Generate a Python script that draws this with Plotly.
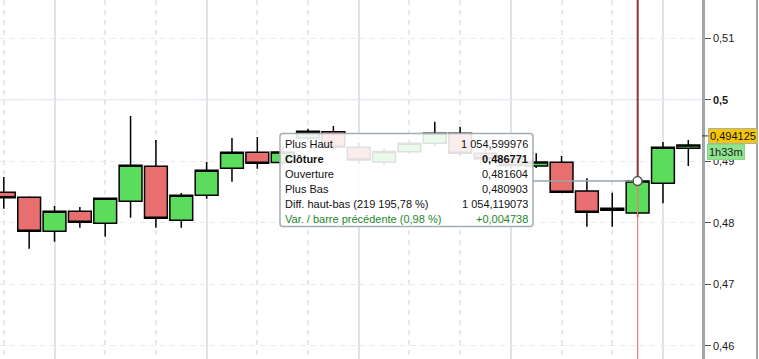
import plotly.graph_objects as go

# ---------------- data ----------------
bars = list(range(28))
opens = [0.48495, 0.48414, 0.47861, 0.48186, 0.47991, 0.48349, 0.48918, 0.48040,
         0.48446, 0.48885, 0.49146, 0.48980, 0.49380, 0.49481, 0.49227, 0.48988,
         0.49156, 0.49292, 0.49455, 0.49130, 0.49040, 0.48923, 0.48983, 0.48516,
         0.48235, 0.481604, 0.48642, 0.49211]
highs = [0.48744, 0.48430, 0.48272, 0.48256, 0.48398, 0.49736, 0.49346, 0.48484,
         0.48988, 0.49378, 0.49395, 0.49240, 0.49530, 0.49574, 0.49300, 0.49210,
         0.49350, 0.49643, 0.49562, 0.49200, 0.49110, 0.49129, 0.49086, 0.48723,
         0.48489, 1054.599976, 0.49313, 0.49346]
lows = [0.48228, 0.47578, 0.47692, 0.47919, 0.47773, 0.48082, 0.47919, 0.47919,
        0.48391, 0.48668, 0.48879, 0.48930, 0.49340, 0.49180, 0.48960, 0.48940,
        0.49120, 0.49250, 0.49080, 0.48980, 0.48880, 0.48890, 0.48495, 0.47936,
        0.47936, 0.480903, 0.48316, 0.48923]
closes = [0.48407, 0.47861, 0.48186, 0.48007, 0.48398, 0.48934, 0.48072, 0.48446,
          0.48853, 0.49146, 0.48967, 0.49150, 0.49490, 0.49227, 0.49020, 0.49159,
          0.49292, 0.49455, 0.49130, 0.49040, 0.48930, 0.48988, 0.48495, 0.48170,
          0.482033, 0.486771, 0.49227, 0.49263]

y_ticks = [0.46, 0.47, 0.48, 0.49, 0.50, 0.51]
y_ticktext = ["0,46", "0,47", "0,48", "0,49", "<b>0,5</b>", "0,51"]

hover_bar = 25
last_price = 0.494125
timer_text = "1h33m"

tip_labels = ["Plus Haut", "<b>Clôture</b>", "Ouverture", "Plus Bas"]

# ---------------- geometry ----------------
W, H = 759, 359
PW = 702           # plot area width in px
X0, X1 = -0.15, 27.54
Y0, Y1 = 0.45784, 0.51623


def fr(v, d):
    s = f"{abs(v):,.{d}f}".replace(",", " ").replace(".", ",")
    return ("-" if v < 0 else "") + s


def xp(px):   # pixel -> paper x
    return px / PW


def yp(py):   # pixel -> paper y
    return 1 - py / H


def xd(px):   # pixel -> data x
    return X0 + px / PW * (X1 - X0)


def ypv(v):   # value -> paper y
    return (v - Y0) / (Y1 - Y0)


GREEN = "#5cdc5c"
RED = "#e76f6f"

fig = go.Figure()
fig.add_trace(go.Candlestick(
    x=bars, open=opens, high=highs, low=lows, close=closes,
    increasing=dict(line=dict(color="#000000", width=1.5), fillcolor=GREEN),
    decreasing=dict(line=dict(color="#000000", width=1.5), fillcolor=RED),
    whiskerwidth=0, hoverinfo="skip", showlegend=False))

shapes = []
# solid horizontal grid line at 0.5
shapes.append(dict(type="line", xref="paper", yref="y", x0=0, x1=1, y0=0.5, y1=0.5,
                   line=dict(color="#e1e3ea", width=1), layer="below"))
# right panel border
shapes.append(dict(type="line", xref="paper", yref="paper", x0=xp(757), x1=xp(757),
                   y0=0, y1=1, line=dict(color="#9ea7ad", width=2)))

# crosshair
i = hover_bar
shapes.append(dict(type="line", xref="x", yref="y", x0=i, x1=i, y0=closes[i], y1=0.53,
                   line=dict(color="#a8302e", width=1.6), layer="above"))
shapes.append(dict(type="line", xref="x", yref="y", x0=i, x1=i, y0=0.44, y1=closes[i],
                   line=dict(color="#f07a7a", width=1.2), layer="above"))
shapes.append(dict(type="line", xref="x", yref="y", x0=xd(533), x1=i, y0=closes[i],
                   y1=closes[i], line=dict(color="#9aa5ad", width=1.5), layer="above"))
shapes.append(dict(type="circle", xref="x", yref="y", xsizemode="pixel", ysizemode="pixel",
                   xanchor=i, yanchor=closes[i], x0=-4.5, x1=4.5, y0=-4.5, y1=4.5,
                   fillcolor="white", line=dict(color="#555555", width=1.5), layer="above"))

# tooltip box (rounded)
L, R, T, B, r = 280, 533, 133.5, 226.5, 3


def P(px, py):
    return f"{xp(px):.6f},{yp(py):.6f}"


path = (f"M {P(L + r, T)} L {P(R - r, T)} Q {P(R, T)} {P(R, T + r)} "
        f"L {P(R, B - r)} Q {P(R, B)} {P(R - r, B)} L {P(L + r, B)} "
        f"Q {P(L, B)} {P(L, B - r)} L {P(L, T + r)} Q {P(L, T)} {P(L + r, T)} Z")
shapes.append(dict(type="path", xref="paper", yref="paper", path=path,
                   fillcolor="rgba(255,255,255,0.88)",
                   line=dict(color="#a3adb5", width=1.5), layer="above"))

# last price tick mark
shapes.append(dict(type="line", xref="paper", yref="paper", x0=1, x1=xp(708),
                   y0=ypv(last_price), y1=ypv(last_price),
                   line=dict(color="#333333", width=1)))

annotations = []
FONT = "Liberation Sans, Arial, sans-serif"

prev_close = closes[i - 1]
diff = highs[i] - lows[i]
var = closes[i] - prev_close
tip_values = [fr(highs[i], 6), "<b>" + fr(closes[i], 6) + "</b>", fr(opens[i], 6), fr(lows[i], 6)]
tip_rows = list(zip(tip_labels, tip_values, ["#111111"] * 4))
tip_rows.append((f"Diff. haut-bas ({fr(diff / lows[i] * 100, 2)} %)", fr(diff, 6), "#111111"))
tip_rows.append((f"Var. / barre précédente ({fr(var / prev_close * 100, 2)} %)",
                 ("+" if var >= 0 else "") + fr(var, 6), "#23892a"))

for k, (lab, val, col) in enumerate(tip_rows):
    yy = yp(144 + 15 * k)
    annotations.append(dict(xref="paper", yref="paper", x=xp(283), y=yy, text=lab,
                            showarrow=False, xanchor="left", yanchor="middle",
                            font=dict(family=FONT, size=11, color=col)))
    annotations.append(dict(xref="paper", yref="paper", x=xp(530), y=yy, text=val,
                            showarrow=False, xanchor="right", yanchor="middle",
                            font=dict(family=FONT, size=11, color=col)))

# price label
annotations.append(dict(xref="paper", yref="paper", x=xp(708), y=ypv(last_price),
                        text=fr(last_price, 6), showarrow=False, xanchor="left",
                        yanchor="middle", bgcolor="#f6c600", bordercolor="#a9b0b5",
                        borderwidth=1, borderpad=1,
                        font=dict(family=FONT, size=11, color="#111111")))
annotations.append(dict(xref="paper", yref="paper", x=xp(707), y=ypv(last_price),
                        yshift=-16, text=timer_text, showarrow=False, xanchor="left",
                        yanchor="middle", bgcolor="#8fe48f", bordercolor="#86d886",
                        borderwidth=1, borderpad=1,
                        font=dict(family=FONT, size=11, color="#1a1a1a")))

fig.update_layout(
    width=W, height=H,
    margin=dict(l=0, r=W - PW, t=0, b=0),
    paper_bgcolor="white", plot_bgcolor="white",
    boxgap=0.1, boxgroupgap=0,
    showlegend=False,
    shapes=shapes, annotations=annotations,
    xaxis=dict(range=[X0, X1], rangeslider=dict(visible=False), showticklabels=False,
               ticks="", zeroline=False, showline=False,
               tickmode="array", tickvals=[2, 8, 14, 20, 26],
               showgrid=True, gridcolor="#dfe2ea", gridwidth=1.5,
               minor=dict(tickmode="array", tickvals=[0, 4, 6, 10, 12, 16, 18, 22, 24],
                          showgrid=True, gridcolor="#e6e8ee", griddash="5px,5px",
                          gridwidth=1.5, ticks="")),
    yaxis=dict(range=[Y0, Y1], side="right", tickmode="array", tickvals=y_ticks,
               ticktext=y_ticktext, ticks="outside", ticklen=6, tickcolor="#555555",
               tickwidth=1, showline=True, linecolor="#9ea7ad", linewidth=2.5,
               showgrid=True, gridcolor="#e6e8ee", griddash="5px,5px", zeroline=False,
               tickfont=dict(family=FONT, size=11, color="#1a1a1a")),
)

fig.write_html("out.html")
